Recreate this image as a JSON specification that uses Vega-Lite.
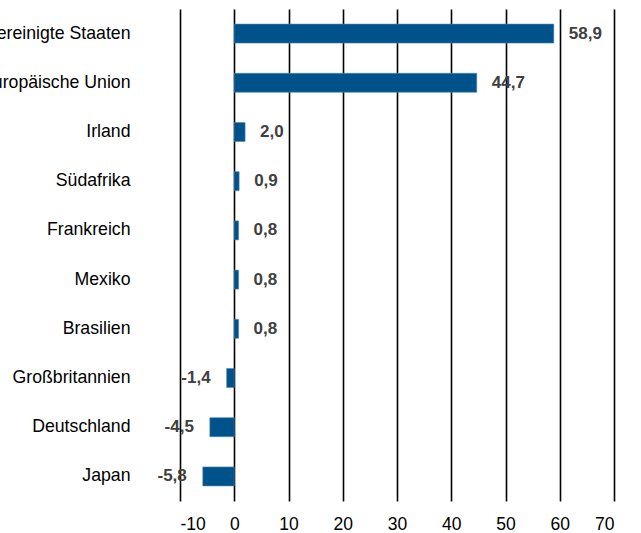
{
  "$schema": "https://vega.github.io/schema/vega-lite/v6.json",
  "autosize": "none",
  "padding": {"left": 180, "top": 9, "right": 27, "bottom": 32},
  "width": 434,
  "height": 492,
  "background": "white",
  "config": {
    "view": {"stroke": null},
    "font": "Liberation Sans"
  },
  "data": {
    "values": [
      {"land": "Vereinigte Staaten", "wert": 58.9, "label": "58,9"},
      {"land": "Europäische Union", "wert": 44.7, "label": "44,7"},
      {"land": "Irland", "wert": 2.0, "label": "2,0"},
      {"land": "Südafrika", "wert": 0.9, "label": "0,9"},
      {"land": "Frankreich", "wert": 0.8, "label": "0,8"},
      {"land": "Mexiko", "wert": 0.8, "label": "0,8"},
      {"land": "Brasilien", "wert": 0.8, "label": "0,8"},
      {"land": "Großbritannien", "wert": -1.4, "label": "-1,4"},
      {"land": "Deutschland", "wert": -4.5, "label": "-4,5"},
      {"land": "Japan", "wert": -5.8, "label": "-5,8"}
    ]
  },
  "encoding": {
    "y": {
      "field": "land",
      "type": "nominal",
      "sort": null,
      "scale": {"paddingInner": 0, "paddingOuter": 0},
      "axis": {
        "title": null,
        "domain": false,
        "ticks": false,
        "labelPadding": 50,
        "labelFontSize": 17.7,
        "labelColor": "#000000",
        "labelFont": "Liberation Sans"
      }
    },
    "x": {
      "field": "wert",
      "type": "quantitative",
      "scale": {"domain": [-10, 70], "nice": false},
      "axis": {
        "title": null,
        "values": [-10, 0, 10, 20, 30, 40, 50, 60, 70],
        "labelExpr": "'' + datum.value",
        "domain": false,
        "ticks": false,
        "grid": true,
        "gridColor": "#000000",
        "gridWidth": 1.6,
        "gridOpacity": 1,
        "labelPadding": 14,
        "labelFontSize": 17.5,
        "labelColor": "#000000",
        "labelFont": "Liberation Sans"
      }
    }
  },
  "layer": [
    {
      "mark": {"type": "bar", "size": 19, "color": "#00528A", "stroke": "#4f86b0", "strokeWidth": 0.6}
    },
    {
      "transform": [{"filter": "datum.wert >= 0"}],
      "mark": {"type": "text", "align": "left", "baseline": "middle", "dx": 15, "fontSize": 17, "fontWeight": "bold", "color": "#404040", "font": "Liberation Sans"},
      "encoding": {"text": {"field": "label"}}
    },
    {
      "transform": [{"filter": "datum.wert < 0"}],
      "mark": {"type": "text", "align": "right", "baseline": "middle", "dx": -16, "fontSize": 17, "fontWeight": "bold", "color": "#404040", "font": "Liberation Sans"},
      "encoding": {"text": {"field": "label"}}
    }
  ]
}
